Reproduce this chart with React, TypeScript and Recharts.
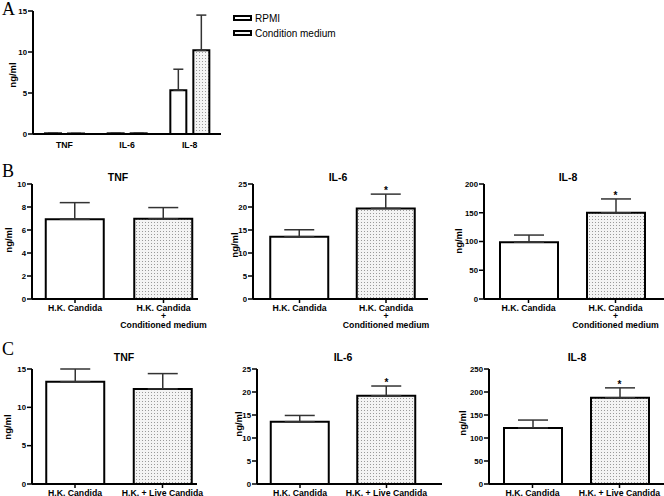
import React from 'react';
import { BarChart, Bar, XAxis, YAxis, ErrorBar, ReferenceDot, Cell } from 'recharts';

const FONT = '"Liberation Sans", Arial, Helvetica, sans-serif';

// ---------- Panel A ----------
const aCategories = ['TNF', 'IL-6', 'IL-8'];
const aSeriesNames = ['RPMI', 'Condition medium'];
const aRpmi = [0.08, 0.08, 5.35];
const aRpmiErr = [0, 0, 2.55];
const aCond = [0.06, 0.08, 10.2];
const aCondErr = [0, 0, 4.3];
const aTicks = [0, 5, 10, 15];

// ---------- Panel B ----------
const bCategories = ['H.K. Candida', 'H.K. Candida|+|Conditioned medium'];
const bTnf = [6.93, 6.97];
const bTnfErr = [1.45, 0.98];
const bTnfSig = [false, false];
const bTnfTicks = [0, 2, 4, 6, 8, 10];
const bIl6 = [13.55, 19.7];
const bIl6Err = [1.5, 3.1];
const bIl6Sig = [false, true];
const bIl6Ticks = [0, 5, 10, 15, 20, 25];
const bIl8 = [98.7, 150];
const bIl8Err = [12.5, 24];
const bIl8Sig = [false, true];
const bIl8Ticks = [0, 50, 100, 150, 200];

// ---------- Panel C ----------
const cCategories = ['H.K. Candida', 'H.K. + Live Candida'];
const cTnf = [13.35, 12.4];
const cTnfErr = [1.65, 2.0];
const cTnfSig = [false, false];
const cTnfTicks = [0, 5, 10, 15];
const cIl6 = [13.55, 19.2];
const cIl6Err = [1.35, 2.1];
const cIl6Sig = [false, true];
const cIl6Ticks = [0, 5, 10, 15, 20, 25];
const cIl8 = [122, 187.5];
const cIl8Err = [17, 21.5];
const cIl8Sig = [false, true];
const cIl8Ticks = [0, 50, 100, 150, 200, 250];

const DotPattern = ({ id }: { id: string }) => (
  <defs>
    <pattern id={id} width="3" height="3" patternUnits="userSpaceOnUse">
      <rect width="3" height="3" fill="#f4f4f4" />
      <rect x="1" y="1" width="1" height="1" fill="#9a9a9a" />
    </pattern>
  </defs>
);

const MultiTick = (props: any) => {
  const { x, y, payload } = props;
  const lines = String(payload.value).split('|');
  return (
    <text x={x} y={y} textAnchor="middle" fontFamily={FONT} fontWeight="bold" fontSize={8.7} fill="#000">
      {lines.map((l, i) => (
        <tspan key={i} x={x} dy={i === 0 ? '0.71em' : 8.3}>
          {l}
        </tspan>
      ))}
    </text>
  );
};

const yTickStyle = { fontFamily: FONT, fontWeight: 'bold' as const, fontSize: 7.8, fill: '#000' };

type PanelProps = {
  id: string;
  left: number;
  top: number;
  width: number;
  height: number;
  marginTop: number;
  marginRight: number;
  yWidth: number;
  xHeight: number;
  padL: number;
  padR: number;
  categories: string[];
  values: number[];
  errs: number[];
  sig: boolean[];
  ticks: number[];
};

const Panel = (p: PanelProps) => {
  const data = p.categories.map((c, i) => ({
    label: c,
    value: p.values[i],
    err: [0, p.errs[i]],
  }));
  const max = p.ticks[p.ticks.length - 1];
  return (
    <div style={{ position: 'absolute', left: p.left, top: p.top }}>
      <BarChart
        width={p.width}
        height={p.height}
        data={data}
        margin={{ top: p.marginTop, right: p.marginRight, bottom: 0, left: 0 }}
      >
        <DotPattern id={`dots-${p.id}`} />
        <XAxis
          dataKey="label"
          padding={{ left: p.padL, right: p.padR }}
          height={p.xHeight}
          axisLine={{ stroke: '#000', strokeWidth: 2 }}
          tickLine={{ stroke: '#000', strokeWidth: 1.5 }}
          tickSize={4}
          tickMargin={2}
          interval={0}
          tick={<MultiTick />}
        />
        <YAxis
          width={p.yWidth}
          domain={[0, max]}
          ticks={p.ticks}
          interval={0}
          axisLine={{ stroke: '#000', strokeWidth: 2 }}
          tickLine={{ stroke: '#000', strokeWidth: 1.5 }}
          tickSize={5}
          tickMargin={1}
          tick={yTickStyle}
        />
        <Bar dataKey="value" barSize={58} stroke="#000" strokeWidth={2} isAnimationActive={false}>
          {data.map((d, i) => (
            <Cell key={i} fill={i === 0 ? '#fff' : `url(#dots-${p.id})`} />
          ))}
          <ErrorBar dataKey="err" width={15} stroke="#333" strokeWidth={1.5} isAnimationActive={false} />
        </Bar>
        {data.map((d, i) =>
          p.sig[i] ? (
            <ReferenceDot
              key={`s${i}`}
              x={d.label}
              y={p.values[i] + p.errs[i]}
              r={0}
              shape={(sp: any) => (
                <text
                  x={sp.cx}
                  y={sp.cy}
                  textAnchor="middle"
                  fontFamily={FONT}
                  fontWeight="bold"
                  fontSize={10}
                  fill="#000"
                >
                  *
                </text>
              )}
            />
          ) : null
        )}
      </BarChart>
    </div>
  );
};

const PanelA = () => {
  const data = aCategories.map((c, i) => ({
    label: c,
    rpmi: aRpmi[i],
    rpmiErr: [0, aRpmiErr[i]],
    cond: aCond[i],
    condErr: [0, aCondErr[i]],
  }));
  return (
    <div style={{ position: 'absolute', left: 0, top: 0 }}>
      <BarChart
        width={240}
        height={160}
        data={data}
        margin={{ top: 11, right: 19, bottom: 0, left: 0 }}
        barGap={7}
      >
        <DotPattern id="dots-a" />
        <XAxis
          dataKey="label"
          height={26}
          axisLine={{ stroke: '#000', strokeWidth: 2 }}
          tickLine={false}
          tickSize={6}
          tickMargin={2}
          interval={0}
          tick={<MultiTick />}
        />
        <YAxis
          width={33}
          domain={[0, 15]}
          ticks={aTicks}
          interval={0}
          axisLine={{ stroke: '#000', strokeWidth: 2 }}
          tickLine={{ stroke: '#000', strokeWidth: 1.5 }}
          tickSize={5}
          tickMargin={1}
          tick={yTickStyle}
        />
        <Bar dataKey="rpmi" name={aSeriesNames[0]} barSize={16} fill="#fff" stroke="#000" strokeWidth={2} isAnimationActive={false}>
          <ErrorBar dataKey="rpmiErr" width={5} stroke="#333" strokeWidth={1.5} isAnimationActive={false} />
        </Bar>
        <Bar dataKey="cond" name={aSeriesNames[1]} barSize={16} fill="url(#dots-a)" stroke="#000" strokeWidth={2} isAnimationActive={false}>
          <ErrorBar dataKey="condErr" width={5} stroke="#333" strokeWidth={1.5} isAnimationActive={false} />
        </Bar>
      </BarChart>
    </div>
  );
};

const titleStyle = { fontFamily: FONT, fontWeight: 'bold' as const, fontSize: 10.5, fill: '#000' };
const ylabStyle = { fontFamily: FONT, fontWeight: 'bold' as const, fontSize: 9.5, fill: '#000' };
const letterStyle = { fontFamily: '"Liberation Serif", "Times New Roman", serif', fontSize: 18, fill: '#000' };

const titles: [string, number, number][] = [
  ['TNF', 118, 181],
  ['IL-6', 338, 181],
  ['IL-8', 568, 181],
  ['TNF', 124, 361],
  ['IL-6', 343, 361],
  ['IL-8', 577, 361],
];
const ylabels: [number, number][] = [
  [12, 75],
  [8, 240],
  [234, 245],
  [458, 241],
  [7, 427],
  [238, 424],
  [462, 423],
];
const letters: [string, number, number][] = [
  ['A', 2, 15],
  ['B', 2, 177],
  ['C', 2, 355],
];

const Overlay = () => (
  <svg
    width={664}
    height={496}
    style={{ position: 'absolute', left: 0, top: 0, pointerEvents: 'none' }}
  >
    <DotPattern id="dots-legend" />
    {letters.map(([t, x, y], i) => (
      <text key={`l${i}`} x={x} y={y} style={letterStyle}>
        {t}
      </text>
    ))}
    {titles.map(([t, x, y], i) => (
      <text key={`t${i}`} x={x} y={y} textAnchor="middle" style={titleStyle}>
        {t}
      </text>
    ))}
    {ylabels.map(([x, y], i) => (
      <text
        key={`y${i}`}
        x={x}
        y={y}
        textAnchor="middle"
        dominantBaseline="central"
        transform={`rotate(-90 ${x} ${y})`}
        style={ylabStyle}
      >
        ng/ml
      </text>
    ))}
    {aSeriesNames.map((n, i) => (
      <g key={`lg${i}`}>
        <rect
          x={234}
          y={16 + i * 15}
          width={17}
          height={4}
          fill={i === 0 ? '#fff' : 'url(#dots-legend)'}
          stroke="#000"
          strokeWidth={2}
        />
        <text x={255} y={21.5 + i * 15} fontFamily={FONT} fontSize={10} fill="#000">
          {n}
        </text>
      </g>
    ))}
  </svg>
);

export default function App() {
  return (
    <div
      style={{
        position: 'absolute',
        left: 0,
        top: 0,
        width: 664,
        height: 496,
        overflow: 'hidden',
        background: '#fff',
      }}
    >
      <PanelA />
      <Panel id="btnf" left={0} top={170} width={220} height={160} marginTop={14} marginRight={22} yWidth={32} xHeight={31} padL={-1.25} padR={-9.75} categories={bCategories} values={bTnf} errs={bTnfErr} sig={bTnfSig} ticks={bTnfTicks} />
      <Panel id="bil6" left={222} top={170} width={220} height={160} marginTop={14} marginRight={14} yWidth={31} xHeight={31} padL={3.25} padR={-1.25} categories={bCategories} values={bIl6} errs={bIl6Err} sig={bIl6Sig} ticks={bIl6Ticks} />
      <Panel id="bil8" left={444} top={170} width={220} height={160} marginTop={14} marginRight={0} yWidth={40} xHeight={31} padL={1} padR={5} categories={bCategories} values={bIl8} errs={bIl8Err} sig={bIl8Sig} ticks={bIl8Ticks} />
      <Panel id="ctnf" left={0} top={355} width={220} height={159} marginTop={14} marginRight={23} yWidth={32} xHeight={30} padL={-0.75} padR={-9.25} categories={cCategories} values={cTnf} errs={cTnfErr} sig={cTnfSig} ticks={cTnfTicks} />
      <Panel id="cil6" left={222} top={355} width={230} height={159} marginTop={14} marginRight={10} yWidth={35} xHeight={30} padL={-0.25} padR={12.25} categories={cCategories} values={cIl6} errs={cIl6Err} sig={cIl6Sig} ticks={cIl6Ticks} />
      <Panel id="cil8" left={444} top={355} width={220} height={159} marginTop={14} marginRight={0} yWidth={45} xHeight={30} padL={0} padR={1} categories={cCategories} values={cIl8} errs={cIl8Err} sig={cIl8Sig} ticks={cIl8Ticks} />
      <Overlay />
    </div>
  );
}
